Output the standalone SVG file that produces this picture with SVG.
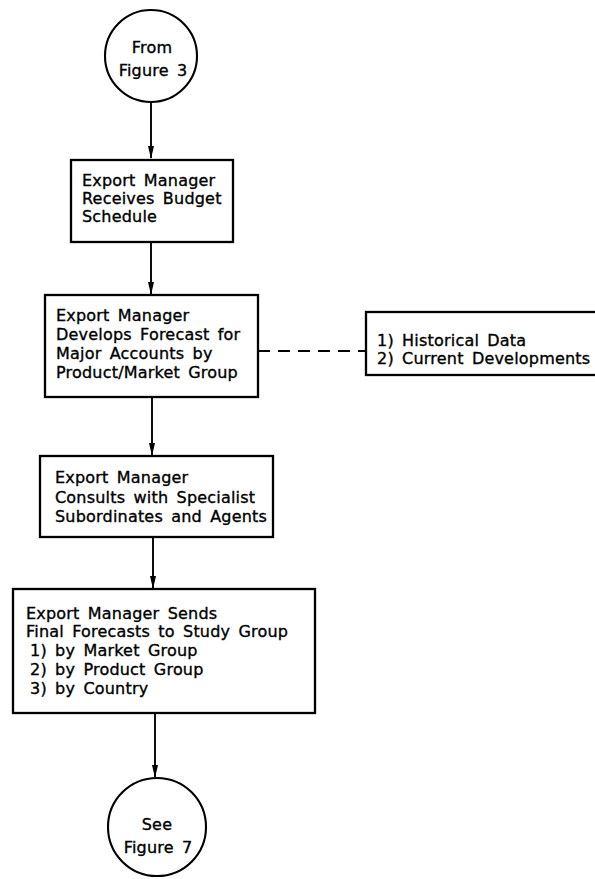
<svg xmlns="http://www.w3.org/2000/svg" width="595" height="879" viewBox="0 0 595 879">
  <style>
    .box { fill: #fff; stroke: #000; stroke-width: 2.3; }
    .term { fill: #fff; stroke: #000; stroke-width: 2.1; }
    .lbl { font-family: "DejaVu Sans", "Liberation Sans", sans-serif; font-size: 16px; fill: #000; stroke: #000; stroke-width: 0.35; word-spacing: 3px; letter-spacing: 0.2px; }
    .mid { text-anchor: middle; }
    .flow { stroke: #000; stroke-width: 1.9; fill: none; }
    .dash { stroke: #000; stroke-width: 1.9; fill: none; stroke-dasharray: 12 8; }
    .head { fill: #000; }
  </style>
  <rect width="595" height="879" fill="#fff"/>

  <!-- flow lines with their arrowheads, plus the dashed link to the inputs box -->
  <g id="connectors">
    <line class="flow" x1="151" y1="102" x2="151" y2="158"/>
    <line class="flow" x1="151" y1="243" x2="151" y2="294"/>
    <line class="flow" x1="152" y1="397" x2="152" y2="455"/>
    <line class="flow" x1="153" y1="537" x2="153" y2="588"/>
    <line class="flow" x1="155" y1="713" x2="155" y2="777"/>
    <line class="dash" x1="258" y1="351" x2="366" y2="351"/>
    <path class="head" d="M148,146 L151,159 L154,146 Z"/>
    <path class="head" d="M148,282 L151,295 L154,282 Z"/>
    <path class="head" d="M149,443 L152,456 L155,443 Z"/>
    <path class="head" d="M150,576 L153,589 L156,576 Z"/>
    <path class="head" d="M152,765 L155,778 L158,765 Z"/>
  </g>

  <g id="from-figure-3">
    <circle class="term" cx="151" cy="56" r="46"/>
    <text class="lbl mid" x="152" y="53">From</text>
    <text class="lbl mid" x="153" y="76">Figure 3</text>
  </g>

  <g id="receives-budget">
    <rect class="box" x="71" y="160" width="162" height="82"/>
    <text class="lbl" x="82" y="186">Export Manager</text>
    <text class="lbl" x="82" y="204">Receives Budget</text>
    <text class="lbl" x="82" y="222">Schedule</text>
  </g>

  <g id="develops-forecast">
    <rect class="box" x="45" y="295" width="213" height="102"/>
    <text class="lbl" x="56" y="321">Export Manager</text>
    <text class="lbl" x="56" y="340">Develops Forecast for</text>
    <text class="lbl" x="56" y="359">Major Accounts by</text>
    <text class="lbl" x="56" y="378">Product/Market Group</text>
  </g>

  <g id="inputs">
    <rect class="box" x="366" y="312" width="240" height="63"/>
    <text class="lbl" x="377" y="346">1) Historical Data</text>
    <text class="lbl" x="377" y="364">2) Current Developments</text>
  </g>

  <g id="consults">
    <rect class="box" x="40" y="456" width="233" height="81"/>
    <text class="lbl" x="55" y="483">Export Manager</text>
    <text class="lbl" x="55" y="503">Consults with Specialist</text>
    <text class="lbl" x="55" y="522">Subordinates and Agents</text>
  </g>

  <g id="sends-forecasts">
    <rect class="box" x="13" y="589" width="302" height="124"/>
    <text class="lbl" x="26" y="619">Export Manager Sends</text>
    <text class="lbl" x="26" y="637">Final Forecasts to Study Group</text>
    <text class="lbl" x="30" y="656">1) by Market Group</text>
    <text class="lbl" x="30" y="675">2) by Product Group</text>
    <text class="lbl" x="30" y="694">3) by Country</text>
  </g>

  <g id="see-figure-7">
    <circle class="term" cx="157" cy="827" r="49"/>
    <text class="lbl mid" x="157" y="830">See</text>
    <text class="lbl mid" x="158" y="853">Figure 7</text>
  </g>
</svg>
